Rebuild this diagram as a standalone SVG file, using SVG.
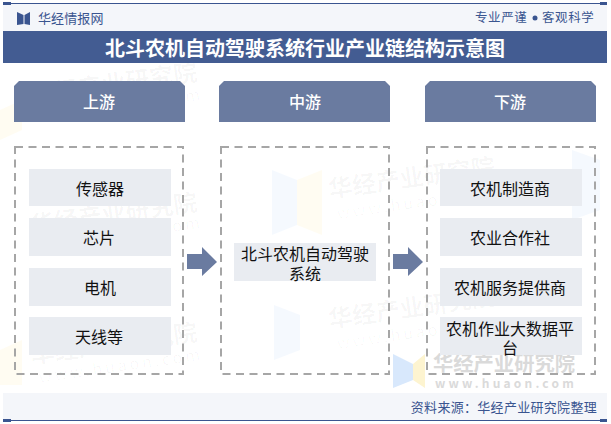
<svg xmlns="http://www.w3.org/2000/svg" width="611" height="424" viewBox="0 0 611 424">
<style>
text{font-family:"Noto Sans CJK SC","Noto Sans",sans-serif}
.hd{fill:#6a7ba0}
.hdt{fill:#fff;font-size:16px;text-anchor:middle;font-weight:500}
.it{fill:#e9ecf1}
.itt{fill:#111;font-size:16px;text-anchor:middle}
.dash{fill:none;stroke:#a6a6a6;stroke-width:2;stroke-dasharray:8 5.5}
.band{fill:#f4f6fa}
.navy{fill:#3a5590}
.wm{fill:#000;fill-opacity:.035;font-size:24px;font-weight:700}
.wu{fill:#000;fill-opacity:.03;font-size:16px;letter-spacing:3px}
.lb{fill:#cfe2fb;fill-opacity:.2}
.ly{fill:#fdf0c0;fill-opacity:.2}
</style>
<rect width="611" height="424" fill="#fff"/>
<g id="watermarks">
<g transform="rotate(-8 115 85)"><text class="wm" x="30" y="92">华经产业研究院</text><text class="wu" x="35" y="112">www.huaon.com</text></g>
<g transform="rotate(-8 115 215)"><text class="wm" x="30" y="222">华经产业研究院</text><text class="wu" x="35" y="240">www.huaon.com</text></g>
<g transform="rotate(-8 115 345)"><text class="wm" x="30" y="352">华经产业研究院</text><text class="wu" x="35" y="372">www.huaon.com</text></g>
<g transform="rotate(-8 415 180)"><text class="wm" x="328" y="186">华经产业研究院</text><text class="wu" x="333" y="208">www.huaon.com</text></g>
<g transform="rotate(-8 415 310)"><text class="wm" x="328" y="316">华经产业研究院</text><text class="wu" x="333" y="338">www.huaon.com</text></g>
<polygon class="lb" points="272,170 297,180 297,225 272,235"/>
<polygon class="ly" points="297,180 322,170 322,235 297,225"/>
<polygon class="lb" points="274,305 300,315 300,350 274,360"/>
<polygon class="lb" points="572,150 600,160 600,210 572,220"/>
<polygon class="ly" points="0,110 22,100 22,130 0,140"/>
<polygon class="ly" points="0,350 22,340 22,385 0,385"/>
<polygon points="393,354 413,364 413,380 393,388" fill="#d8e8fc"/>
<polygon points="413,364 425,354 425,388 413,380" fill="#fdf4d0"/>
<text x="433" y="371" font-size="20.3" font-weight="700" fill="#dadada">华经产业研究院</text>
<text x="435" y="388" font-size="12" font-weight="700" fill="#dadada" letter-spacing="3.2" font-family="Liberation Sans">www.huaon.com</text>
</g>
<g id="top-band">
<rect class="band" x="3" y="4" width="604" height="27"/>
<rect class="navy" x="3" y="3" width="604" height="1"/>
<rect class="navy" x="3" y="2" width="8" height="3"/>
<rect class="navy" x="600" y="2" width="7" height="3"/>
<path class="navy" d="M17 12 L23.500 15 L23.500 24 L17 25 Z M30 12 L24.500 15 L24.500 24 L30 25 Z"/>
<text x="38" y="23" font-size="13" fill="#3a5590" letter-spacing=".1">华经情报网</text>
<text x="475" y="22" font-size="12.5" fill="#3a5590" letter-spacing=".6">专业严谨</text>
<circle cx="535" cy="18" r="2.500" fill="#3a5590"/>
<text x="542" y="22" font-size="12.5" fill="#3a5590" letter-spacing=".6">客观科学</text>
</g>
<g id="title">
<rect x="3" y="31" width="604" height="32" fill="#435c92"/>
<text x="305" y="56" font-size="20" font-weight="700" fill="#fff" text-anchor="middle">北斗农机自动驾驶系统行业产业链结构示意图</text>
</g>
<g id="upstream">
<path class="hd" d="M19 81 H180 L185 86 V122 H14 V86 Z"/>
<text class="hdt" x="99" y="108">上游</text>
<rect class="dash" x="15" y="147" width="168" height="227"/>
</g>
<g id="up-1"><rect class="it" x="29" y="169" width="142" height="37"/><text class="itt" x="100" y="195">传感器</text></g>
<g id="up-2"><rect class="it" x="29" y="218" width="142" height="38"/><text class="itt" x="99" y="244">芯片</text></g>
<g id="up-3"><rect class="it" x="29" y="268" width="142" height="38"/><text class="itt" x="100" y="294">电机</text></g>
<g id="up-4"><rect class="it" x="29" y="317" width="142" height="38"/><text class="itt" x="99" y="343">天线等</text></g>
<g id="midstream">
<path class="hd" d="M224 81 H385 L390 86 V122 H219 V86 Z"/>
<text class="hdt" x="305" y="108">中游</text>
<rect class="dash" x="221" y="147" width="168" height="227"/>
</g>
<g id="mid-1"><rect class="it" x="234" y="243" width="142" height="38"/><text class="itt" x="305" y="260">北斗农机自动驾驶</text><text class="itt" x="305" y="280">系统</text></g>
<g id="downstream">
<path class="hd" d="M430 81 H591 L596 86 V122 H425 V86 Z"/>
<text class="hdt" x="510" y="108">下游</text>
<rect class="dash" x="427" y="147" width="168" height="227"/>
</g>
<g id="down-1"><rect class="it" x="440" y="169" width="142" height="37"/><text class="itt" x="510" y="195">农机制造商</text></g>
<g id="down-2"><rect class="it" x="440" y="218" width="142" height="38"/><text class="itt" x="510" y="244">农业合作社</text></g>
<g id="down-3"><rect class="it" x="440" y="268" width="142" height="38"/><text class="itt" x="510" y="294">农机服务提供商</text></g>
<g id="down-4"><rect class="it" x="440" y="317" width="142" height="38"/><text class="itt" x="510" y="335">农机作业大数据平</text><text class="itt" x="510" y="354">台</text></g>
<g id="connectors">
<polygon class="hd" points="187,254 202,254 202,247 217,262 202,276 202,269 187,269"/>
<polygon class="hd" points="393,254 408,254 408,247 423,262 408,276 408,269 393,269"/>
</g>
<g id="footer">
<rect class="band" x="3" y="393" width="604" height="27"/>
<rect class="navy" x="3" y="420" width="604" height="1"/>
<rect class="navy" x="3" y="419" width="8" height="3"/>
<rect class="navy" x="600" y="419" width="7" height="3"/>
<text x="597" y="412" font-size="13" fill="#3a5590" text-anchor="end" letter-spacing=".3">资料来源：华经产业研究院整理</text>
</g>
</svg>
